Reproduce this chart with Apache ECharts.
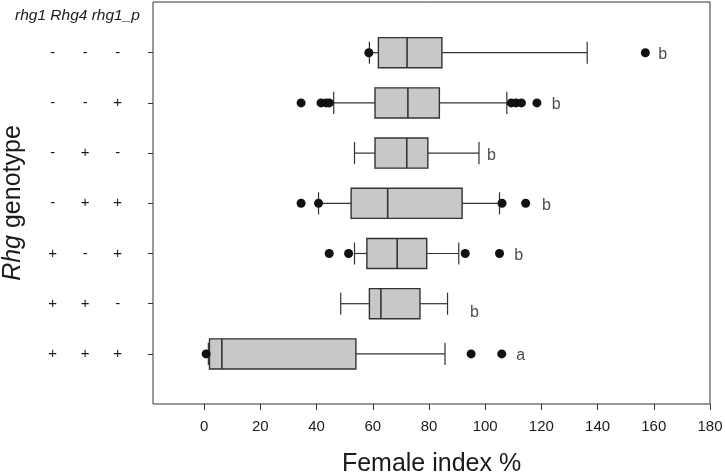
<!DOCTYPE html>
<html><head><meta charset="utf-8">
<script src="https://cdn.jsdelivr.net/npm/echarts@6/dist/echarts.min.js"></script>
<style>html,body{margin:0;padding:0;background:#fff}#c{width:725px;height:473px}</style>
</head><body><div id="c"></div>
<script>
// rows top to bottom: rhg1, Rhg4, rhg1_p
const genotypes = [
  ['-','-','-'],
  ['-','-','+'],
  ['-','+','-'],
  ['-','+','+'],
  ['+','-','+'],
  ['+','+','-'],
  ['+','+','+']
];
// [whisker low, Q1, median, Q3, whisker high]
const boxStats = [
  [58.8, 62.0, 72.2, 84.6, 136.3],
  [46.1, 60.8, 72.5, 83.7, 107.7],
  [53.5, 60.8, 72.1, 79.6, 97.8],
  [40.7, 52.3, 65.3, 91.8, 105.1],
  [53.5, 57.9, 68.7, 79.2, 90.6],
  [48.6, 58.8, 62.9, 76.8, 86.6],
  [1.5, 1.9, 6.3, 54.0, 85.7]
];
const outliers = [
  [58.6, 157.0],
  [34.5, 41.6, 43.4, 44.5, 109.3, 111.0, 112.9, 118.4],
  [],
  [34.5, 40.7, 106.0, 114.4],
  [44.5, 51.4, 92.9, 105.1],
  [],
  [0.7, 95.0, 105.9]
];
const letters = ['b','b','b','b','b','b','a'];
const letterX = [163.2, 125.3, 102.2, 121.8, 111.9, 96.2, 112.6];
const xTicks = [0, 20, 40, 60, 80, 100, 120, 140, 160, 180];
const xMin = -18.2, xMax = 180;

const FONT = '"Liberation Sans", Arial, Helvetica, sans-serif';
const INK = '#1a1a1a';
const cats = genotypes.map(g => g.join(','));

const chart = echarts.init(document.getElementById('c'), null, {renderer: 'canvas'});

const outlierData = [];
outliers.forEach((arr, i) => arr.forEach(v => outlierData.push([v, i])));

const letterData = letterX.map((x, i) => ({
  value: [x, i],
  label: { formatter: letters[i], offset: i === 5 ? [0, 9] : [0, 2] }
}));

const option = {
  animation: false,
  textStyle: { fontFamily: FONT },
  grid: [
    { left: 153, right: 15, top: 2, bottom: 69, show: true, borderColor: '#333', borderWidth: 1,
      backgroundColor: 'transparent', containLabel: false, outerBoundsMode: 'none' },
    { left: 153, right: 15, top: 27.6, bottom: 94, containLabel: false, outerBoundsMode: 'none' }
  ],
  xAxis: [
    {
      gridIndex: 0, type: 'value', min: xMin, max: xMax,
      axisLine: { show: false, onZero: false },
      splitLine: { show: false },
      axisTick: { show: true, length: 6, customValues: xTicks, lineStyle: { color: '#333', width: 1 } },
      axisLabel: { customValues: xTicks, fontSize: 15, color: INK, margin: 15, fontFamily: FONT },
      name: 'Female index %', nameLocation: 'middle', nameGap: 48,
      nameTextStyle: { fontSize: 25, color: INK, fontFamily: FONT }
    },
    { gridIndex: 1, type: 'value', min: xMin, max: xMax, show: false, axisLine: { onZero: false } }
  ],
  yAxis: [
    {
      gridIndex: 0, type: 'value', min: 0, max: 1,
      axisLine: { show: false, onZero: false }, axisTick: { show: false }, axisLabel: { show: false }, splitLine: { show: false },
      name: '{i|Rhg} genotype', nameLocation: 'middle', nameGap: 127, nameRotate: 90,
      nameTextStyle: { fontSize: 25, color: INK, fontFamily: FONT,
        rich: { i: { fontStyle: 'italic', fontSize: 25, color: INK, fontFamily: FONT } } }
    },
    {
      gridIndex: 1, type: 'category', data: cats, inverse: true,
      axisLine: { show: false, onZero: false },
      splitLine: { show: false },
      axisTick: { show: true, alignWithLabel: true, interval: 0, length: 5, lineStyle: { color: '#333' } },
      axisLabel: {
        interval: 0, margin: 19,
        formatter: v => v.split(',').map(s => '{c|' + s + '}').join(''),
        rich: { c: { width: 32.5, align: 'center', fontSize: 15, color: INK, fontFamily: FONT } }
      }
    }
  ],
  graphic: [
    { type: 'text', left: 15, top: 8,
      style: { text: 'rhg1 Rhg4 rhg1_p', font: 'italic 15.5px "Liberation Sans", Arial, sans-serif', fill: INK } }
  ],
  series: [
    {
      type: 'custom', xAxisIndex: 1, yAxisIndex: 1,
      data: boxStats.map((s, i) => [i].concat(s)),
      encode: { x: [1, 2, 3, 4, 5], y: 0 },
      renderItem: function (params, api) {
        const yi = api.value(0);
        const band = api.size([0, 1])[1];
        const pt = k => api.coord([api.value(k), yi]);
        const pLo = pt(1), y = pLo[1];
        const xLo = pLo[0], xQ1 = pt(2)[0], xMed = pt(3)[0], xQ3 = pt(4)[0], xHi = pt(5)[0];
        const bh = band * 0.6, ch = band * 0.44;
        const ls = { stroke: '#333', lineWidth: 1.2 };
        return {
          type: 'group',
          children: [
            { type: 'line', shape: { x1: xLo, y1: y, x2: xQ1, y2: y }, style: ls },
            { type: 'line', shape: { x1: xQ3, y1: y, x2: xHi, y2: y }, style: ls },
            { type: 'line', shape: { x1: xLo, y1: y - ch / 2, x2: xLo, y2: y + ch / 2 }, style: ls },
            { type: 'line', shape: { x1: xHi, y1: y - ch / 2, x2: xHi, y2: y + ch / 2 }, style: ls },
            { type: 'rect', shape: { x: xQ1, y: y - bh / 2, width: xQ3 - xQ1, height: bh },
              style: { fill: '#c8c8c8', stroke: '#333', lineWidth: 1.4 } },
            { type: 'line', shape: { x1: xMed, y1: y - bh / 2, x2: xMed, y2: y + bh / 2 },
              style: { stroke: '#333', lineWidth: 1.6 } }
          ]
        };
      }
    },
    {
      type: 'scatter', xAxisIndex: 1, yAxisIndex: 1,
      data: outlierData, symbolSize: 9,
      itemStyle: { color: '#111', opacity: 1 }
    },
    {
      type: 'scatter', xAxisIndex: 1, yAxisIndex: 1,
      data: letterData, symbolSize: 1,
      itemStyle: { color: 'rgba(0,0,0,0)' },
      label: { show: true, position: 'inside', fontSize: 16, color: INK, fontFamily: FONT }
    }
  ]
};
chart.setOption(option);
</script>
</body></html>
